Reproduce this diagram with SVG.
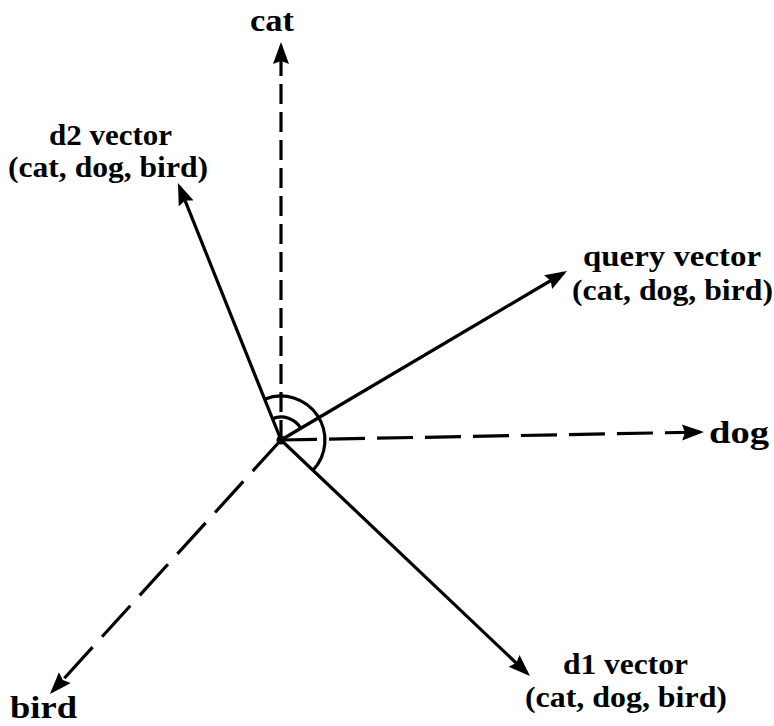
<svg xmlns="http://www.w3.org/2000/svg" width="774" height="726" viewBox="0 0 774 726">
  <style>
    .ln { stroke: #000; stroke-width: 3.2; fill: none; }
    .arr { marker-end: url(#ah); }
    .lbl { font-family: "Liberation Serif", "Times New Roman", serif; font-weight: bold; fill: #000; }
    .v { font-size: 30px; }
    .ax { font-size: 32px; }
  </style>
  <defs>
    <marker id="ah" markerUnits="userSpaceOnUse" markerWidth="24" markerHeight="18" refX="18" refY="8" orient="auto">
      <path d="M0,0 L22,8 L0,16 L3,8 z" fill="#000"/>
    </marker>
  </defs>
  <rect width="774" height="726" fill="#fff"/>
  <g id="connectors">
    <line class="ln arr" x1="281" y1="440" x2="281" y2="46" stroke-dasharray="20 8"/>
    <line class="ln arr" x1="281" y1="440" x2="700" y2="432.1" stroke-dasharray="36 12"/>
    <line class="ln arr" x1="281" y1="440" x2="52.7" y2="691" stroke-dasharray="42 14"/>
    <line class="ln arr" x1="281" y1="440" x2="179.5" y2="186.7"/>
    <line class="ln arr" x1="281" y1="440" x2="563.6" y2="273"/>
    <line class="ln arr" x1="281" y1="440" x2="527.1" y2="673.3"/>
    <path class="ln" d="M272.4,418.7 A23,23 0 0 1 300.8,428.2"/>
    <path class="ln" d="M264.6,399.2 A44,44 0 0 1 312.9,470.3"/>
    <circle cx="281" cy="440" r="4.5" fill="#000"/>
  </g>
  <g id="cat">
    <text class="lbl ax" x="250" y="31" textLength="44" lengthAdjust="spacingAndGlyphs">cat</text>
  </g>
  <g id="dog">
    <text class="lbl ax" x="709" y="443" textLength="60" lengthAdjust="spacingAndGlyphs">dog</text>
  </g>
  <g id="bird">
    <text class="lbl ax" x="10" y="718" textLength="67" lengthAdjust="spacingAndGlyphs">bird</text>
  </g>
  <g id="d2">
    <text class="lbl v" x="49" y="145" textLength="123" lengthAdjust="spacingAndGlyphs">d2 vector</text>
    <text class="lbl v" x="8" y="177" textLength="200" lengthAdjust="spacingAndGlyphs">(cat, dog, bird)</text>
  </g>
  <g id="query">
    <text class="lbl v" x="583" y="266" textLength="178" lengthAdjust="spacingAndGlyphs">query vector</text>
    <text class="lbl v" x="572" y="300" textLength="201" lengthAdjust="spacingAndGlyphs">(cat, dog, bird)</text>
  </g>
  <g id="d1">
    <text class="lbl v" x="563" y="674" textLength="125" lengthAdjust="spacingAndGlyphs">d1 vector</text>
    <text class="lbl v" x="525" y="707" textLength="202" lengthAdjust="spacingAndGlyphs">(cat, dog, bird)</text>
  </g>
</svg>
